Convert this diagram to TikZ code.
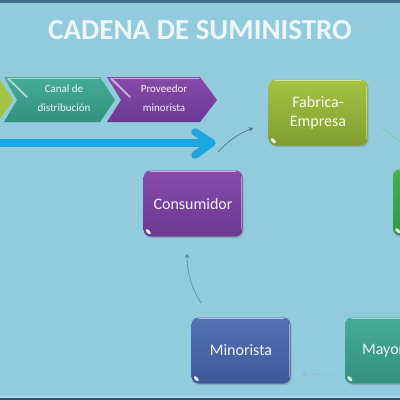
\documentclass[tikz,border=0pt]{standalone}
\usepackage{fontspec}
\setmainfont{Carlito}
\usetikzlibrary{shadows,arrows.meta}
\definecolor{bg}{RGB}{146,203,219}
\definecolor{topbar}{RGB}{62,108,140}
\definecolor{botbar}{RGB}{40,84,110}
\definecolor{titlecol}{RGB}{236,247,249}
\definecolor{greenA}{RGB}{164,194,68}
\definecolor{greenB}{RGB}{128,158,48}
\definecolor{purA}{RGB}{136,74,170}
\definecolor{purB}{RGB}{106,56,146}
\definecolor{bluA}{RGB}{84,113,178}
\definecolor{bluB}{RGB}{64,88,154}
\definecolor{tealA}{RGB}{68,172,152}
\definecolor{tealB}{RGB}{50,144,126}
\definecolor{grnA}{RGB}{70,178,80}
\definecolor{grnB}{RGB}{46,152,64}
\definecolor{arrowblue}{RGB}{27,166,223}
\definecolor{conncol}{RGB}{74,106,138}
\definecolor{boxtext}{RGB}{244,244,246}
\tikzset{
  box/.style={rounded corners=7pt, minimum width=99pt, minimum height=66pt,
    inner sep=0pt, align=center, font=\fontsize{16}{19}\selectfont, text=boxtext,
    drop shadow={opacity=0.35, shadow xshift=1.2pt, shadow yshift=-1.5pt}},
  chevtext/.style={font=\fontsize{11}{19}\selectfont, text=boxtext, align=center, inner sep=0pt},
  conn/.style={draw=conncol, line width=0.6pt, -{Stealth[length=4pt,width=4.5pt]}},
  shine/.style={draw=white, opacity=0.55, line width=1pt, line cap=round},
}
\begin{document}
\begin{tikzpicture}[x=1pt,y=-1pt]
\useasboundingbox (0,0) rectangle (400,400);
\fill[bg] (0,0) rectangle (400,400);
\fill[topbar] (0,0) rectangle (400,2.5);
\fill[botbar] (0,397.5) rectangle (400,400);
\fill[white,opacity=0.25] (0,395.5) rectangle (400,397.5);

% title
\node[font=\bfseries\fontsize{29}{33}\selectfont, text=titlecol] (title) at (200,30) {CADENA DE SUMINISTRO};

% chevrons
\fill[greenA] (-20,77) -- (-2,77) -- (13,100) -- (-2,122) -- (-20,122) -- cycle;
\shade[top color=tealA, bottom color=tealB] (4,77) -- (100,77) -- (115,100) -- (100,122) -- (4,122) -- (17,100) -- cycle;
\shade[top color=purA, bottom color=purB] (107,77) -- (200,77) -- (217,100) -- (200,122) -- (107,122) -- (121,100) -- cycle;
\draw[shine, line width=2pt] (8,78.5) -- (27,97);
\draw[shine] (10,78) -- (99,78);
\draw[shine, line width=2pt] (111,78.5) -- (130,97);
\draw[shine] (113,78) -- (199,78);
\node[chevtext] (canal) at (64,98.5) {Canal de\\distribución};
\node[chevtext] (prov) at (164,98.5) {Proveedor\\minorista};

% big blue arrow
\coordinate (a0) at (-5,143);
\coordinate (a1) at (209,143);
\draw[arrowblue, line width=7.5pt] (a0) -- (a1);
\draw[arrowblue, line width=7.5pt, line cap=round, line join=round] (195,132) -- (212,143) -- (195,155);

% boxes
\node[box, top color=greenA, bottom color=greenB, text=white!92!yellow] (fab) at (318,112.5) {Fabrica-\\Empresa};
\node[box, top color=grnA, bottom color=grnB] (dist) at (442.5,202.5) {};
\node[box, top color=purA, bottom color=purB] (cons) at (193,203.5) {Consumidor};
\node[box, top color=bluA, bottom color=bluB] (mino) at (241,350.5) {Minorista};
\node[box, top color=tealA, bottom color=tealB] (mayo) at (394.5,350.5) {Mayorista};

\foreach \b in {fab,dist,cons,mino,mayo}{
  \draw[shine] ([xshift=7pt,yshift=-1.5pt]\b.north west) -- ([xshift=-7pt,yshift=-1.5pt]\b.north east);
  \draw[shine, opacity=0.4] ([xshift=-1pt,yshift=-7pt]\b.north east) -- ([xshift=-1pt,yshift=7pt]\b.south east);
  \begin{scope}[shift={([xshift=5pt,yshift=5pt]\b.south west)}]
    \fill[white, opacity=0.9, rotate=-45] (0,0) ellipse [x radius=3.2, y radius=1.6];
  \end{scope}
}

% connectors
\coordinate (c1s) at (218,152);
\coordinate (c1e) at (253,128);
\draw[conn] (c1s) to[bend left=12] (c1e);
\coordinate (c2s) at (201,303);
\coordinate (c2e) at (187,254);
\draw[conn, draw=conncol!70!bg] (c2s) to[bend left=15] (c2e);
\coordinate (c3s) at (334,374);
\coordinate (c3e) at (302,374.5);
\draw[conn, draw=conncol!35!bg!80!white] (c3s) -- (c3e);
\coordinate (c4s) at (381,127);
\coordinate (c4e) at (402,143);
\draw[draw=green!40!bg, line width=0.6pt] (c4s) -- (c4e);
\end{tikzpicture}
\end{document}
